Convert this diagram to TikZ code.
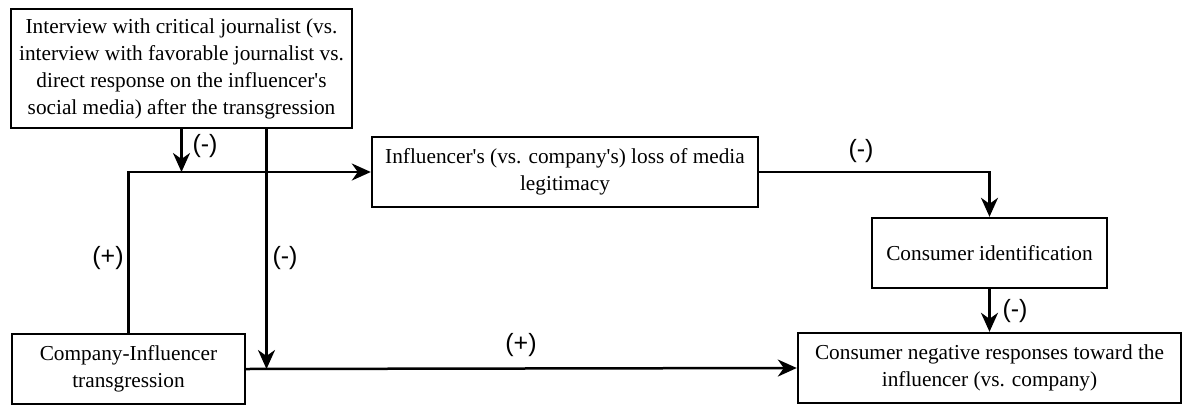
\documentclass[tikz,border=0pt]{standalone}
\usepackage{fontspec}
\setmainfont{Liberation Serif}
\newfontfamily\signfont{Liberation Sans}
\usetikzlibrary{arrows.meta}
\usetikzlibrary{positioning}

\newcommand{\apos}{\textquotesingle}

\tikzset{
  varbox/.style={draw,line width=2.4pt,inner sep=0pt,align=center,
    minimum height=70pt,font=\fontsize{21.3}{27}\selectfont},
  sign/.style={inner sep=0pt,font=\signfont\fontsize{25}{27}\selectfont},
  link/.style={draw,line width=2.5pt,->,>={Stealth[length=19pt,width=17pt,inset=6pt]}}
}

\begin{document}
\begin{tikzpicture}[x=1pt,y=-1pt]

  \useasboundingbox (0,0) rectangle (1184,405);

  % variables
  \node [varbox,minimum width=341pt,minimum height=119pt] (M) at (181.5,68.5)
    {Interview with critical journalist (vs.\\ interview with favorable journalist vs.\\
     direct response on the influencer\apos s\\ social media) after the transgression};
  \node [varbox,minimum width=386pt] (Med) at (565,172)
    {Influencer\apos s (vs. company\apos s) loss of media\\ legitimacy};
  \node [varbox,minimum width=235pt] (CI) at (989.5,253) {Consumer identification};
  \node [varbox,minimum width=383pt] (DV) at (989.5,368)
    {Consumer negative responses toward the\\ influencer (vs. company)};
  \node [varbox,minimum width=233pt] (IV) at (128.5,369)
    {Company-Influencer\\ transgression};

  % moderation points
  \coordinate (Mout) at ([xshift=85pt]M.south);
  \coordinate (hitA) at (M.south |- Med.west);
  \coordinate (hitB) at (Mout |- IV.east);

  \path [link]
    (IV.north) |- (Med.west);
  \path [link]
    (M.south)  -- (hitA);
  \path [link]
    (Mout)     -- (hitB);
  \path [link]
    (IV.east)  -- (DV.west);
  \path [link]
    (Med.east) -| (CI.north);
  \path [link]
    (CI.south) -- (DV.north);

  % signs
  \node [sign] (sA)  at (205,146) {(-)};
  \node [sign] (sIV) at (108,258) {(+)};
  \node [sign] (sB)  at (285,258) {(-)};
  \node [sign] (sMe) at (861,151) {(-)};
  \node [sign] (sCI) at (1015,311) {(-)};
  \node [sign] (sDV) at (521,345) {(+)};

\end{tikzpicture}
\end{document}
